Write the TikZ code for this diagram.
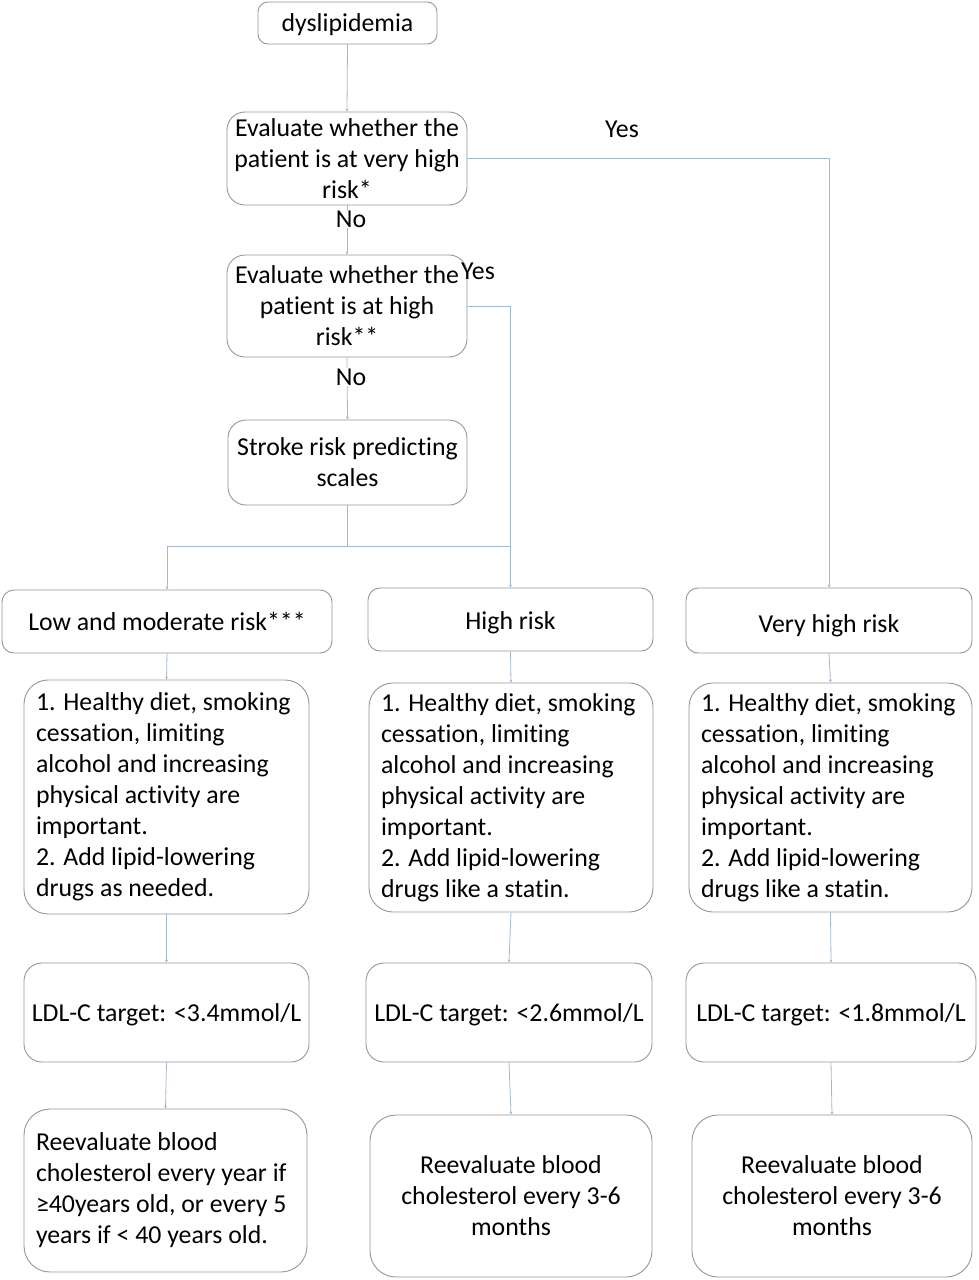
\documentclass[tikz,border=0pt]{standalone}
\usepackage{fontspec}
\setmainfont[Ligatures=NoCommon]{Carlito}
\usetikzlibrary{arrows.meta}
\definecolor{conn}{RGB}{165,185,205}
\definecolor{boxgray}{RGB}{150,150,150}
\newcommand{\myfs}{\fontsize{25.8}{31}\selectfont}
\newcommand{\lowertext}[2]{\raisebox{-#1}[\height][\depth]{#2}}
\begin{document}
\begin{tikzpicture}[x=1pt,y=-1pt,
  box/.style={draw=boxgray, line width=0.9pt, rounded corners=18pt, align=center,
    inner xsep=6pt, inner ysep=0pt, font=\myfs},
  lbox/.style={box, align=flush left, inner xsep=12pt},
  conline/.style={draw=conn, line width=0.8pt},
  arr/.style={conline, -{Stealth[length=3pt,width=3pt]}},
  lab/.style={font=\myfs, inner sep=1pt},
  nolab/.style={lab, fill=white}]
\useasboundingbox (0,0) rectangle (978,1280);

\node[box, minimum width=179pt, minimum height=42pt, rounded corners=10pt] (dys) at (347.5,23) {\lowertext{2pt}{dyslipidemia}};
\node[box, minimum width=240pt, minimum height=93pt] (e1) at (347,158.5) {Evaluate whether the\\patient is at very high\\risk*};
\node[box, minimum width=240pt, minimum height=102pt] (e2) at (347,306) {Evaluate whether the\\patient is at high\\risk**};
\node[box, minimum width=239pt, minimum height=85pt] (stroke) at (347.5,462.5) {Stroke risk predicting\\scales};

\node[box, minimum width=330pt, minimum height=63pt, rounded corners=12pt] (low) at (167,621.5) {Low and moderate risk***};
\node[box, minimum width=285pt, minimum height=63pt, rounded corners=12pt] (high) at (510.5,619.5) {\lowertext{3pt}{High risk}};
\node[box, minimum width=286pt, minimum height=65pt, rounded corners=12pt] (vhigh) at (829,620.5) {\lowertext{5pt}{Very high risk}};

\node[lbox, text width=261pt, minimum height=234pt, rounded corners=24pt] (t1) at (166.5,797) {1. Healthy diet, smoking\\cessation, limiting\\alcohol and increasing\\physical activity are\\important.\\2. Add lipid-lowering\\drugs as needed.};
\node[lbox, text width=260pt, minimum height=229pt, rounded corners=24pt] (t2) at (511,797.5) {1. Healthy diet, smoking\\cessation, limiting\\alcohol and increasing\\physical activity are\\important.\\2. Add lipid-lowering\\drugs like a statin.};
\node[lbox, text width=259pt, minimum height=229pt, rounded corners=24pt] (t3) at (830.5,797.5) {1. Healthy diet, smoking\\cessation, limiting\\alcohol and increasing\\physical activity are\\important.\\2. Add lipid-lowering\\drugs like a statin.};

\node[box, minimum width=285pt, minimum height=99pt] (l1) at (166.5,1012.5) {\lowertext{2pt}{LDL-C target: <3.4mmol/L}};
\node[box, minimum width=286pt, minimum height=99pt] (l2) at (509,1012.5) {\lowertext{2pt}{LDL-C target: <2.6mmol/L}};
\node[box, minimum width=290pt, minimum height=99pt] (l3) at (831,1012.5) {\lowertext{2pt}{LDL-C target: <1.8mmol/L}};

\node[lbox, text width=259pt, minimum height=163pt, rounded corners=26pt] (r1) at (165.5,1190.5) {Reevaluate blood\\cholesterol every year if\\≥40years old, or every 5\\years if < 40 years old.};
\node[box, minimum width=282pt, minimum height=162pt, rounded corners=26pt] (r2) at (511,1196) {Reevaluate blood\\cholesterol every 3-6\\months};
\node[box, minimum width=280pt, minimum height=162pt, rounded corners=26pt] (r3) at (832,1196) {Reevaluate blood\\cholesterol every 3-6\\months};

% connectors
\draw[arr] (dys.south) -- (e1.north);
\draw[arr] (e1.south) -- (e2.north);
\draw[arr] (e2.south) -- (stroke.north);
\draw[arr] (e1.east) -| (vhigh.north);
\draw[arr] (e2.east) -| (high.north);
\coordinate (j) at (347.5,546.5);
\draw[conline] (stroke.south) -- (j);
\draw[arr] (j) -| (low.north);
\draw[conline] (j) -- (j -| high.north);

\draw[arr] (low.south) -- (t1.north);
\draw[arr] (high.south) -- (t2.north);
\draw[arr] (vhigh.south) -- (t3.north);
\draw[arr] (t1.south) -- (l1.north);
\draw[arr] (t2.south) -- (l2.north);
\draw[arr] (t3.south) -- (l3.north);
\draw[arr] (l1.south) -- (r1.north);
\draw[arr] (l2.south) -- (r2.north);
\draw[arr] (l3.south) -- (r3.north);

% labels
\node[nolab] (no1) at (351,219) {No};
\node[nolab] (no2) at (351,377) {No};
\node[lab] (yes1) at (622,129) {Yes};
\node[lab] (yes2) at (478,271) {Yes};
\end{tikzpicture}
\end{document}
